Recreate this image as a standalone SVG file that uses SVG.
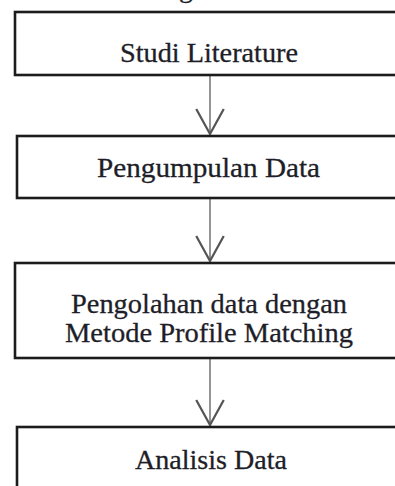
<svg xmlns="http://www.w3.org/2000/svg" width="395" height="486" viewBox="0 0 395 486">
<defs>
<style>
.box{fill:#ffffff;stroke:#1c1c1c;stroke-width:2.6}
.lbl{font-family:"Liberation Serif","Times New Roman",serif;font-size:28px;fill:#1e1e28;stroke:#1e1e28;stroke-width:0.3;text-anchor:middle}
.conn{stroke:#7a7a7a;stroke-width:1.6;fill:none}
</style>
<marker id="arr" markerUnits="userSpaceOnUse" markerWidth="30" markerHeight="30" refX="22" refY="12" orient="auto" viewBox="0 0 24 24">
<path d="M2,1 L22,12 L2,23" fill="none" stroke="#555" stroke-width="1.8"/>
</marker>
</defs>
<rect width="395" height="486" fill="#ffffff"/>
<text class="lbl" x="186" y="-3">g</text>
<g id="connectors">
<line class="conn" x1="210" y1="76" x2="210" y2="134" marker-end="url(#arr)"/>
<line class="conn" x1="210" y1="199" x2="210" y2="261" marker-end="url(#arr)"/>
<line class="conn" x1="210" y1="359" x2="210" y2="425" marker-end="url(#arr)"/>
</g>
<g id="n1">
<rect class="box" x="15" y="12" width="400" height="63"/>
<text class="lbl" x="209" y="62" textLength="178" lengthAdjust="spacingAndGlyphs">Studi Literature</text>
</g>
<g id="n2">
<rect class="box" x="17" y="136" width="400" height="62"/>
<text class="lbl" x="208.5" y="177" textLength="223" lengthAdjust="spacingAndGlyphs">Pengumpulan Data</text>
</g>
<g id="n3">
<rect class="box" x="15" y="263" width="400" height="95"/>
<text class="lbl" x="209" y="313" textLength="276" lengthAdjust="spacingAndGlyphs">Pengolahan data dengan</text>
<text class="lbl" x="209" y="342" textLength="288" lengthAdjust="spacingAndGlyphs">Metode Profile Matching</text>
</g>
<g id="n4">
<rect class="box" x="17" y="427" width="400" height="80"/>
<text class="lbl" x="211" y="469" textLength="152" lengthAdjust="spacingAndGlyphs">Analisis Data</text>
</g>
</svg>
